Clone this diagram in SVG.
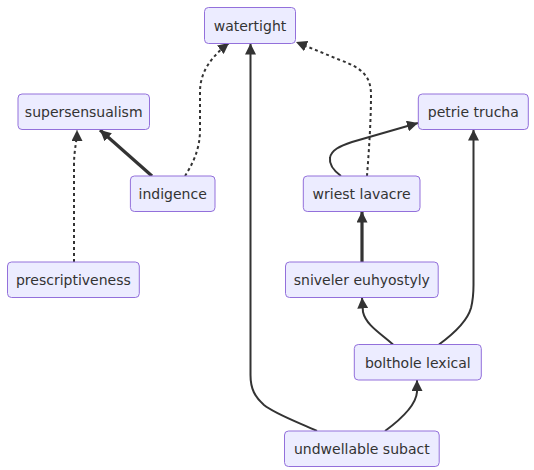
<svg xmlns="http://www.w3.org/2000/svg" width="534" height="470" viewBox="0 0 534 470">
<style>
.node rect{fill:#ECECFF;stroke:#9370DB;stroke-width:1}
.node text{font-family:"DejaVu Sans","Liberation Sans",sans-serif;font-size:14px;fill:#333;text-anchor:middle;dominant-baseline:central}
.e{fill:none;stroke:#333;stroke-width:2}
.thick{stroke-width:3.2}
.dot{stroke-dasharray:3 3}
</style>
<defs>
<marker id="arr" viewBox="0 0 10 10" refX="10" refY="5" markerUnits="userSpaceOnUse" markerWidth="11" markerHeight="11" orient="auto">
<path d="M0,0 L10,5 L0,10 z" fill="#333"/>
</marker>
</defs>
<rect width="534" height="470" fill="#fff"/>
<g id="connectors">
<path class="e thick" d="M152,176 L100,130" marker-end="url(#arr)"/>
<path class="e dot" d="M74,262 L74,165 C74,150 77,141 77,130" marker-end="url(#arr)"/>
<path class="e dot" d="M185,176 C192,165 200,150 200,130 L200,92 C200,72 211,57 229,43" marker-end="url(#arr)"/>
<path class="e" d="M317,431 C300,423 275,414 264,405 C255,397 250.5,389 250.5,375 L250.5,43.5" marker-end="url(#arr)"/>
<path class="e dot" d="M367,176 C369,150 371,120 371,95 C371,76 362,68 340,60 L296,42" marker-end="url(#arr)"/>
<path class="e" d="M341,176 C333,170 329,164 330,158 C331,150 340,146 352,142 L418,123" marker-end="url(#arr)"/>
<path class="e thick" d="M362,262 L362,211.5" marker-end="url(#arr)"/>
<path class="e" d="M393,344.5 C380,333 366,325 363,312 L362,297.5" marker-end="url(#arr)"/>
<path class="e" d="M439,344.5 C452,335 467,322 471,308 C473,300 473.5,295 473.5,285 L473.5,129.5" marker-end="url(#arr)"/>
<path class="e" d="M385,431 C400,420 416,405 417,392 L417,380" marker-end="url(#arr)"/>
</g>
<g id="watertight" class="node"><rect x="204.5" y="7.5" width="91" height="36" rx="4"/><text x="250" y="25.5">watertight</text></g>
<g id="supersensualism" class="node"><rect x="18" y="94" width="131.5" height="35.5" rx="4"/><text x="83.7" y="112">supersensualism</text></g>
<g id="petrie_trucha" class="node"><rect x="418.3" y="94" width="110" height="35.5" rx="4"/><text x="473.3" y="112">petrie trucha</text></g>
<g id="indigence" class="node"><rect x="130.4" y="176" width="84.6" height="35.5" rx="4"/><text x="172.7" y="194">indigence</text></g>
<g id="wriest_lavacre" class="node"><rect x="303.3" y="176" width="116.7" height="35.5" rx="4"/><text x="361.6" y="194">wriest lavacre</text></g>
<g id="prescriptiveness" class="node"><rect x="7.5" y="262" width="131.8" height="35.5" rx="4"/><text x="73.4" y="280">prescriptiveness</text></g>
<g id="sniveler_euhyostyly" class="node"><rect x="285.5" y="262" width="152.7" height="35.5" rx="4"/><text x="361.8" y="280">sniveler euhyostyly</text></g>
<g id="bolthole_lexical" class="node"><rect x="354.3" y="344.5" width="127" height="35.5" rx="4"/><text x="417.8" y="362.5">bolthole lexical</text></g>
<g id="undwellable_subact" class="node"><rect x="284.5" y="431" width="154.7" height="35.5" rx="4"/><text x="361.8" y="449">undwellable subact</text></g>
</svg>
